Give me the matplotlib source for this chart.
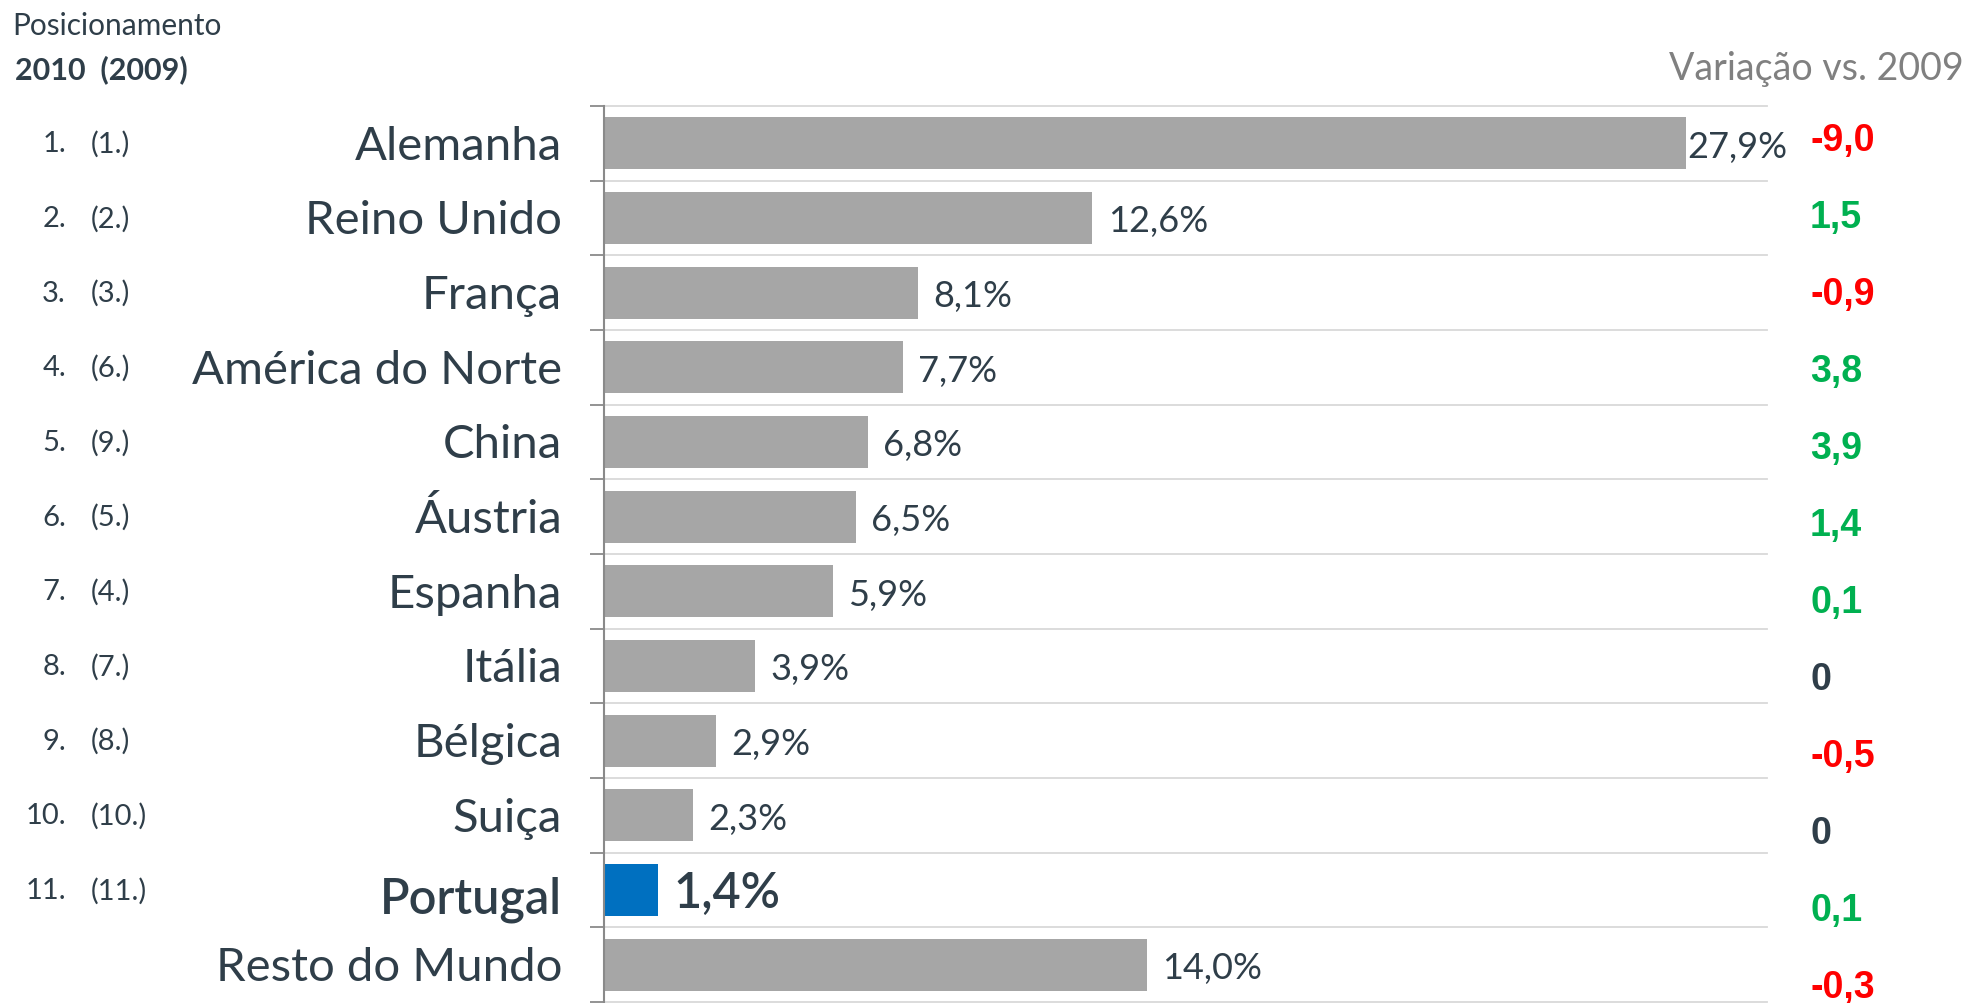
import matplotlib
matplotlib.use("Agg")
import matplotlib.pyplot as plt
import numpy as np

plt.rcParams['font.family'] = ['Lato', 'DejaVu Sans']

countries = ["Alemanha", "Reino Unido", "França", "América do Norte", "China",
             "Áustria", "Espanha", "Itália", "Bélgica", "Suiça", "Portugal",
             "Resto do Mundo"]
shares = [27.9, 12.6, 8.1, 7.7, 6.8, 6.5, 5.9, 3.9, 2.9, 2.3, 1.4, 14.0]
rank_2010 = ["1.", "2.", "3.", "4.", "5.", "6.", "7.", "8.", "9.", "10.", "11.", ""]
rank_2009 = ["(1.)", "(2.)", "(3.)", "(6.)", "(9.)", "(5.)", "(4.)", "(7.)", "(8.)",
             "(10.)", "(11.)", ""]
variation = [-9.0, 1.5, -0.9, 3.8, 3.9, 1.4, 0.1, 0.0, -0.5, 0.0, 0.1, -0.3]

dark = "#2f3e49"
grey_bar = "#a6a6a6"
blue = "#0070c0"
highlight = "Portugal"

fig = plt.figure(figsize=(19.7, 10.04), dpi=100)
ax = fig.add_axes([604/1970, 1/1004, (1767-604)/1970, 896/1004])

y = np.arange(len(countries))
colors = [blue if c == highlight else grey_bar for c in countries]
ax.barh(y, shares, height=0.7, color=colors, zorder=2)

ax.set_xlim(0, 30)
ax.set_ylim(len(countries) - 0.5, -0.5)

# grid lines between rows
bounds = np.arange(len(countries) + 1) - 0.5
for b in bounds:
    ax.axhline(b, color="#d9d9d9", lw=1.3, zorder=1, clip_on=False)

ax.set_yticks(bounds)
ax.set_yticklabels([])
ax.tick_params(axis="y", length=10, width=1.3, color="#8a8a8a", direction="out")
ax.set_xticks([])
for s in ["top", "right", "bottom"]:
    ax.spines[s].set_visible(False)
ax.spines["left"].set_color("#8a8a8a")
ax.spines["left"].set_linewidth(1.5)

ytr = ax.get_yaxis_transform()
for i, c in enumerate(countries):
    hl = c == highlight
    ax.text(-0.036, i + (0.12 if hl else 0.03), c, transform=ytr, ha="right",
            va="center", fontsize=35 if hl else 34, color=dark,
            fontweight="semibold" if hl else "normal")
    ax.text(-0.4626, i, rank_2010[i], transform=ytr, ha="right", va="center",
            fontsize=21, color=dark)
    ax.text(-0.4411, i, rank_2009[i], transform=ytr, ha="left", va="center",
            fontsize=21, color=dark)

    # value labels
    v = shares[i]
    lab = f"{v:.1f}%".replace(".", ",")
    pad = 1 if v > 25 else 11
    ax.annotate(lab, (v, i), xytext=(pad, -2), textcoords="offset points",
                ha="left", va="center", color=dark,
                fontsize=35 if hl else 26,
                fontweight="semibold" if hl else "normal")

# variation column
for i, d in enumerate(variation):
    if d > 0:
        col, txt = "#00b050", f"{d:.1f}".replace(".", ",")
    elif d < 0:
        col, txt = "#ff0000", f"{d:.1f}".replace(".", ",")
    else:
        col, txt = dark, "0"
    yy = -0.048 + i * 1.031
    ax.text(1.037, yy, txt, transform=ytr, ha="left", va="center",
            fontsize=27, fontweight="bold", color=col,
            family="Liberation Sans")

# headers
fig.text(12/1970, 1 - 26/1004, "Posicionamento", ha="left", va="center",
         fontsize=21.5, color=dark)
fig.text(15/1970, 1 - 70/1004, "2010  (2009)", ha="left", va="center",
         fontsize=22, color=dark, fontweight="bold")
fig.text(1964/1970, 1 - 69/1004, "Variação vs. 2009", ha="right", va="center",
         fontsize=27, color="#808080")

fig.savefig("out.png", dpi=100)
